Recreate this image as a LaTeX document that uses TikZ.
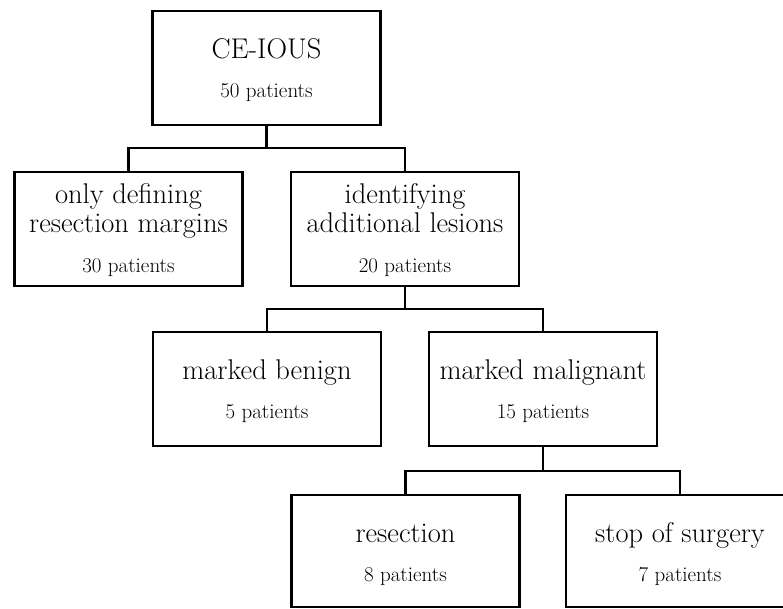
\documentclass[tikz,border=0pt]{standalone}
\usepackage{fontspec}
\setmainfont{Latin Modern Roman}
\begin{document}
\begin{tikzpicture}[x=1pt,y=-1pt,
  box/.style={draw=black,line width=2.5pt,minimum width=228pt,minimum height=114pt,inner sep=0pt,outer sep=0pt,anchor=center},
  lowbox/.style={box,minimum height=112pt},
  bigtxt/.style={anchor=base,inner sep=0pt,font=\fontsize{28.5}{30}\selectfont},
  smalltxt/.style={anchor=base,inner sep=0pt,font=\fontsize{21}{23}\selectfont},
  conn/.style={draw=black,line width=2.5pt}]
\useasboundingbox (0,0) rectangle (783,608);
% boxes
\node[box] (A) at (266.5,68) {};
\node[box] (B) at (128.5,229) {};
\node[box] (C) at (405,229) {};
\node[box] (D) at (267,389) {};
\node[box] (E) at (543,389) {};
\node[lowbox] (F) at (405.5,551) {};
\node[lowbox] (G) at (680,551) {};
% texts
\node[bigtxt] (A1) at (266.5,58) {CE-IOUS};
\node[smalltxt] (A2) at (266.5,97) {50 patients};
\node[bigtxt] (B1) at (128.5,203) {only defining};
\node[bigtxt] (B2) at (128.5,232) {resection margins};
\node[smalltxt] (B3) at (128.5,272) {30 patients};
\node[bigtxt] (C1) at (405,203) {identifying};
\node[bigtxt] (C2) at (405,232) {additional lesions};
\node[smalltxt] (C3) at (405,272) {20 patients};
\node[bigtxt] (D1) at (267,379) {marked benign};
\node[smalltxt] (D2) at (267,418) {5 patients};
\node[bigtxt] (E1) at (543,379) {marked malignant};
\node[smalltxt] (E2) at (543,418) {15 patients};
\node[bigtxt] (F1) at (405.5,542) {resection};
\node[smalltxt] (F2) at (405.5,581) {8 patients};
\node[bigtxt] (G1) at (680,542) {stop of surgery};
\node[smalltxt] (G2) at (680,581) {7 patients};
% connectors
\coordinate (j1) at (266.5,148);
\coordinate (j2) at (405,309);
\coordinate (j3) at (543,471);
\draw[conn] (A.south) -- (j1);
\draw[conn] (B.north) |- (j1) -| (C.north);
\draw[conn] (C.south) -- (j2);
\draw[conn] (D.north) |- (j2) -| (E.north);
\draw[conn] (E.south) -- (j3);
\draw[conn] (F.north) |- (j3) -| (G.north);
\end{tikzpicture}
\end{document}
